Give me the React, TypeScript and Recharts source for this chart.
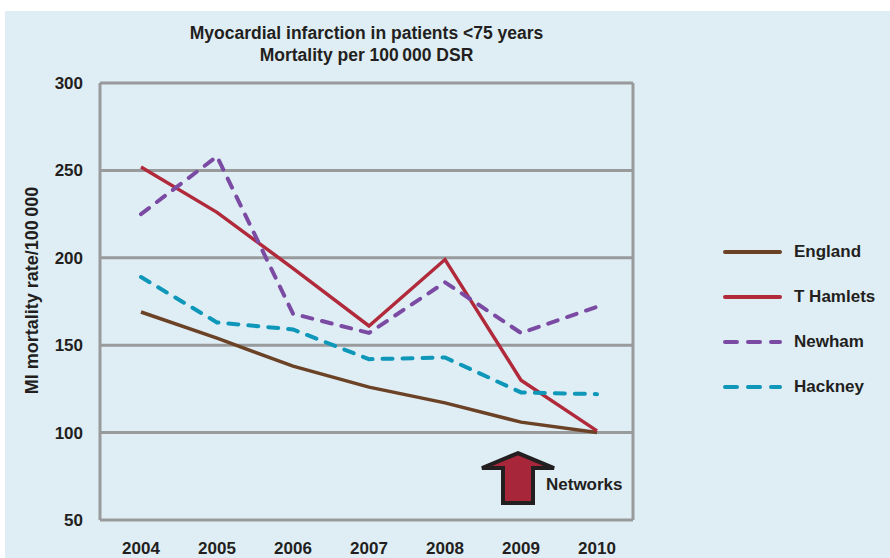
import { LineChart, Line, XAxis, YAxis, CartesianGrid, Legend, ReferenceDot } from "recharts";

const years = ["2004", "2005", "2006", "2007", "2008", "2009", "2010"];
const england = [169, 154, 138, 126, 117, 106, 100];
const tHamlets = [252, 226, 194, 161, 199, 130, 101];
const newham = [225, 258, 168, 157, 186, 157, 172];
const hackney = [189, 163, 159, 142, 143, 123, 122];
const yTicks = [50, 100, 150, 200, 250, 300];

const data = years.map((year, i) => ({
  year,
  england: england[i],
  tHamlets: tHamlets[i],
  newham: newham[i],
  hackney: hackney[i],
}));

const series = [
  { key: "england", name: "England", color: "#6b4226", dash: undefined },
  { key: "tHamlets", name: "T Hamlets", color: "#b02a3b", dash: undefined },
  { key: "newham", name: "Newham", color: "#7b4ba3", dash: "10 10" },
  { key: "hackney", name: "Hackney", color: "#0e97b9", dash: "10 10" },
];

const font = "'Liberation Sans', Arial, sans-serif";
const ink = "#231f20";
const grid = "#999a9c";

const LegendBox = () => (
  <div style={{ fontFamily: font, fontWeight: 700, fontSize: 17, color: ink }}>
    {series.map((s) => (
      <div key={s.key} style={{ display: "flex", alignItems: "center", height: 45 }}>
        <svg width={66} height={10}>
          <line
            x1={4}
            y1={5}
            x2={59}
            y2={5}
            stroke={s.color}
            strokeWidth={4}
            strokeLinecap="round"
            strokeDasharray={s.dash ? "12 11" : undefined}
          />
        </svg>
        <span style={{ marginLeft: 7 }}>{s.name}</span>
      </div>
    ))}
  </div>
);

const ArrowShape = (props: any) => {
  const { cx, cy } = props;
  const x = cx - 3;
  const pts = [
    [x, cy - 25],
    [x + 36, cy - 10],
    [x + 15, cy - 10],
    [x + 15, cy + 25],
    [x - 15, cy + 25],
    [x - 15, cy - 10],
    [x - 36, cy - 10],
  ]
    .map((p) => p.join(","))
    .join(" ");
  return (
    <g>
      <polygon points={pts} fill="#a8263a" stroke="#231f20" strokeWidth={4} strokeLinejoin="miter" />
      <text x={cx + 25} y={cy + 12} fontFamily={font} fontWeight={700} fontSize={17} fill={ink}>
        Networks
      </text>
    </g>
  );
};

export default function App() {
  return (
    <div style={{ position: "absolute", left: 0, top: 0, width: 890, height: 558, background: "#ffffff" }}>
      <div style={{ position: "absolute", left: 5, top: 11, width: 885, height: 547, background: "#dfeef5" }}>
        <div
          style={{
            position: "absolute",
            left: 95,
            width: 533,
            top: 11,
            textAlign: "center",
            fontFamily: font,
            fontWeight: 700,
            fontSize: 17.5,
            lineHeight: "22px",
            color: ink,
          }}
        >
          <div>Myocardial infarction in patients &lt;75 years</div>
          <div>Mortality per 100{"\u2009"}000 DSR</div>
        </div>
        <LineChart width={885} height={547} data={data} margin={{ top: 72, right: 85, bottom: 8, left: 15 }}>
          <CartesianGrid vertical={false} stroke={grid} strokeWidth={3} />
          <XAxis
            dataKey="year"
            axisLine={false}
            tickLine={false}
            height={30}
            tickSize={0}
            tickMargin={22}
            padding={{ left: 41, right: 36 }}
            tick={{ fontFamily: font, fontWeight: 700, fontSize: 17, fill: ink }}
          />
          <YAxis
            domain={[50, 300]}
            ticks={yTicks}
            width={80}
            axisLine={{ stroke: grid, strokeWidth: 3 }}
            tickLine={false}
            tickSize={0}
            tickMargin={17}
            tick={{ fontFamily: font, fontWeight: 700, fontSize: 17, fill: ink }}
            label={{
              content: ({ viewBox }: any) => {
                const x = viewBox.x + 12;
                const y = viewBox.y + viewBox.height / 2 - 11;
                return (
                  <text
                    x={x}
                    y={y}
                    transform={`rotate(-90 ${x} ${y})`}
                    textAnchor="middle"
                    dominantBaseline="central"
                    fontFamily={font}
                    fontWeight={700}
                    fontSize={18}
                    fill={ink}
                  >
                    MI mortality rate/100{"\u2009"}000
                  </text>
                );
              },
            }}
          />
          <YAxis
            yAxisId="right"
            orientation="right"
            domain={[50, 300]}
            ticks={yTicks}
            width={2}
            tick={false}
            tickLine={false}
            axisLine={{ stroke: grid, strokeWidth: 3 }}
          />
          <Legend
            layout="horizontal"
            align="right"
            verticalAlign="middle"
            content={() => <LegendBox />}
            wrapperStyle={{ left: 716, top: 218, width: 170 }}
          />
          {series.map((s) => (
            <Line
              key={s.key}
              type="linear"
              dataKey={s.key}
              name={s.name}
              stroke={s.color}
              strokeWidth={s.dash ? 4 : 3.5}
              strokeDasharray={s.dash}
              strokeLinecap={s.dash ? "round" : "butt"}
              dot={false}
              activeDot={false}
              isAnimationActive={false}
            />
          ))}
          <ReferenceDot x="2009" y={74} shape={ArrowShape} ifOverflow="visible" />
        </LineChart>
      </div>
    </div>
  );
}
